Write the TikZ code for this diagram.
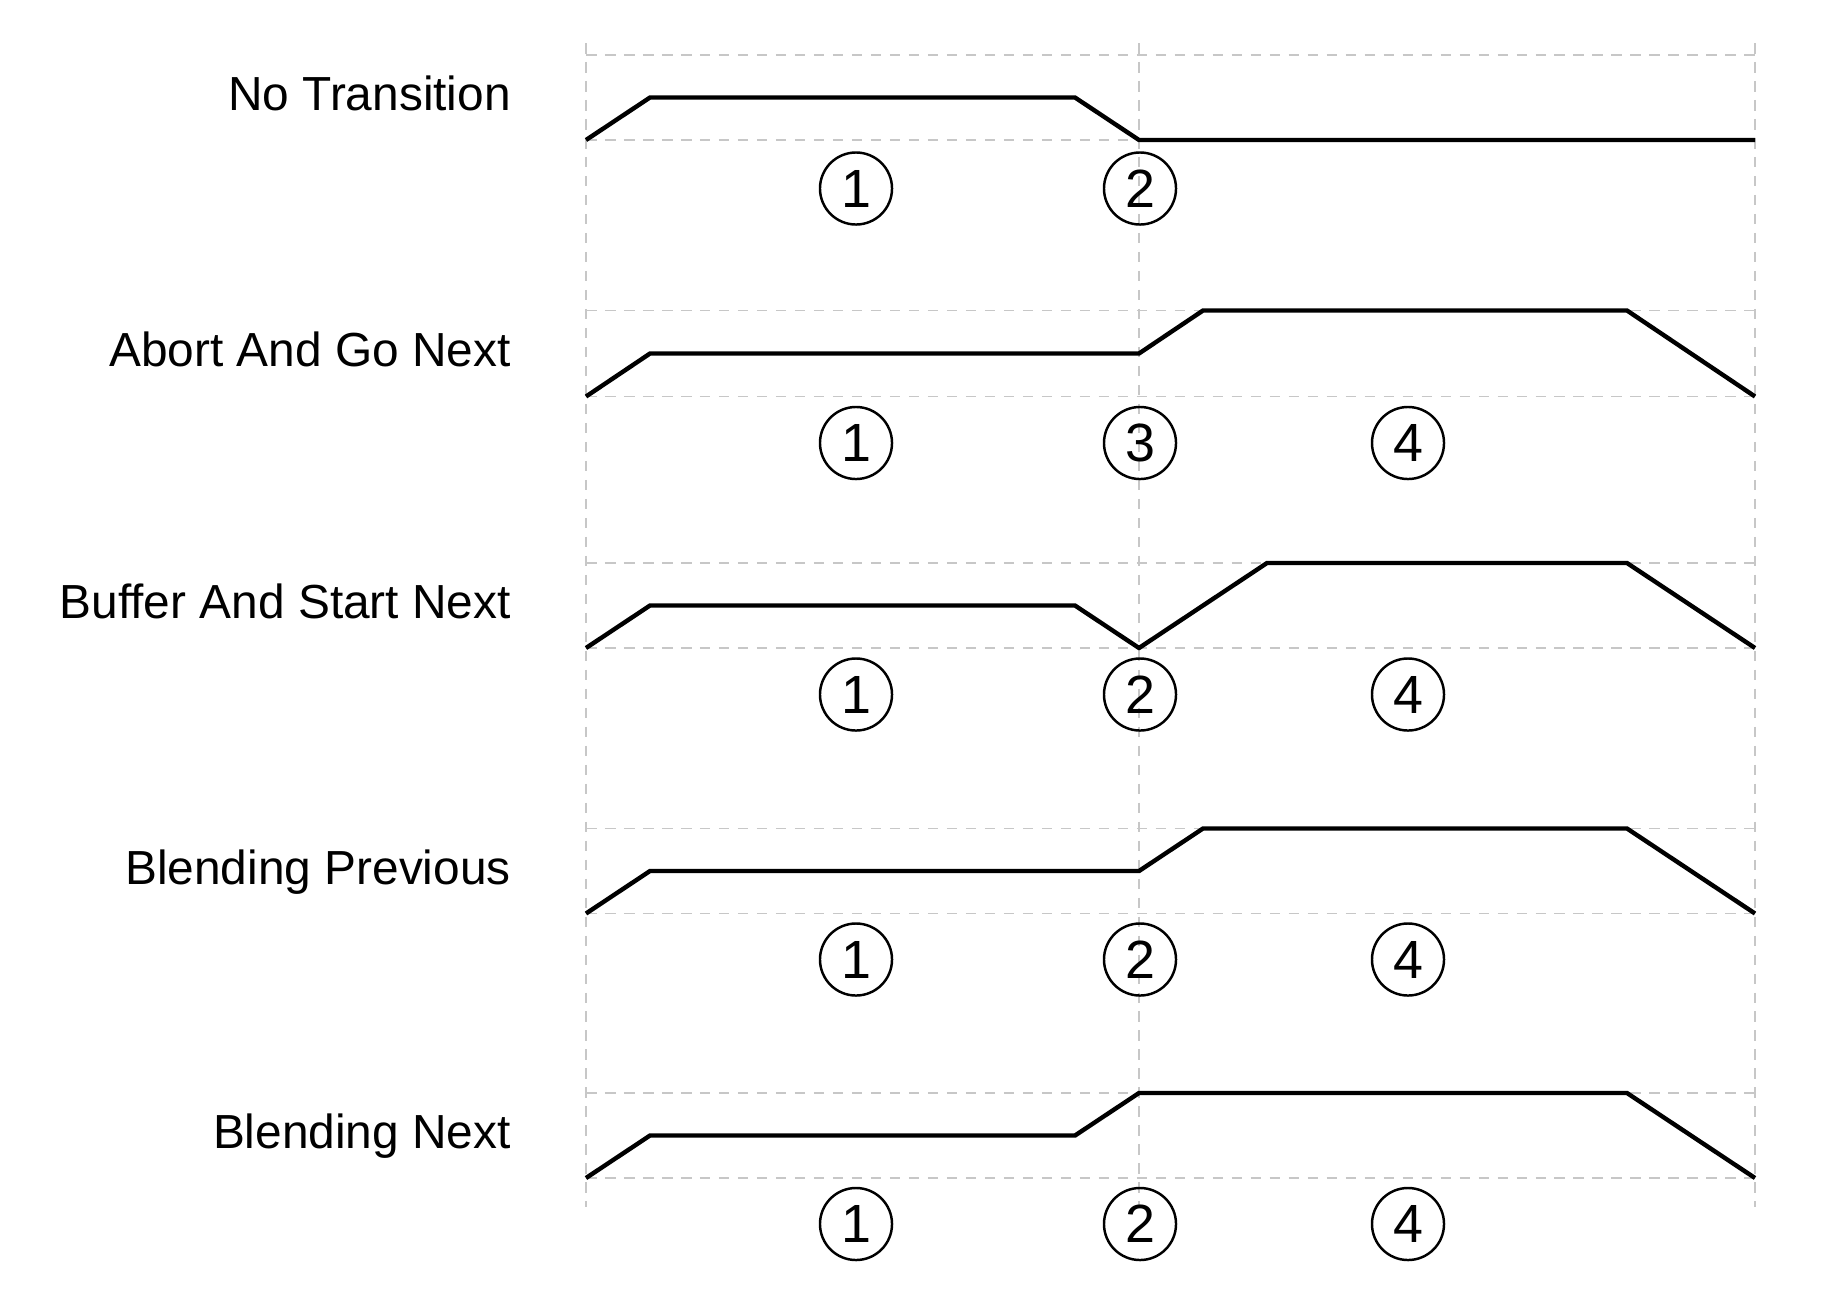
\documentclass[tikz,border=0pt]{standalone}
\usepackage{fontspec}
\setmainfont{Liberation Sans}
\begin{document}
\begin{tikzpicture}[x=0.01cm,y=-0.01cm,
  grid/.style={draw=black!22, line width=0.35pt, dash pattern=on 3pt off 2.4pt},
  sig/.style={line width=1.25pt, line join=miter},
  lab/.style={anchor=base east, inner sep=0pt, font=\fontsize{13.6}{16}\selectfont},
  num/.style={circle, draw, line width=0.7pt, minimum size=0.72cm, inner sep=0pt, font=\fontsize{15.3}{18}\selectfont}]
\useasboundingbox (0,0) rectangle (1836,1290);
% vertical guides
\foreach \x in {586,1139,1755} \draw[grid] (\x,43) -- (\x,1207);
% horizontal guides
\foreach \y in {55,140,310.5,396.5,563,648,828.5,913.5,1093,1178}
  \draw[grid] (586,\y) -- (1758,\y);
% labels
\node[lab] (l1) at (511.5,110.5) {No Transition};
\node[lab] (l2) at (511.5,366.5) {Abort And Go Next};
\node[lab] (l3) at (511.5,618.5) {Buffer And Start Next};
\node[lab] (l4) at (511.5,884) {Blending Previous};
\node[lab] (l5) at (511.5,1148.5) {Blending Next};
% signals
\draw[sig] (586,140) -- (650,97.5) -- (1075,97.5) -- (1139,140) -- (1755,140);
\draw[sig] (586,396.5) -- (650,353.5) -- (1139,353.5) -- (1203,310.5) -- (1627,310.5) -- (1755,396.5);
\draw[sig] (586,648) -- (650,605.5) -- (1075,605.5) -- (1139,648) -- (1267,563) -- (1627,563) -- (1755,648);
\draw[sig] (586,913.5) -- (650,871) -- (1139,871) -- (1203,828.5) -- (1627,828.5) -- (1755,913.5);
\draw[sig] (586,1178) -- (650,1135.5) -- (1075,1135.5) -- (1139,1093) -- (1627,1093) -- (1755,1178);
% numbered markers
\node[num] (r1a) at (856,188.5) {1};
\node[num] (r1b) at (1140,188.5) {2};
\node[num] (r2a) at (856,443) {1};
\node[num] (r2b) at (1140,443) {3};
\node[num] (r2c) at (1408,443) {4};
\node[num] (r3a) at (856,694.5) {1};
\node[num] (r3b) at (1140,694.5) {2};
\node[num] (r3c) at (1408,694.5) {4};
\node[num] (r4a) at (856,959.5) {1};
\node[num] (r4b) at (1140,959.5) {2};
\node[num] (r4c) at (1408,959.5) {4};
\node[num] (r5a) at (856,1224) {1};
\node[num] (r5b) at (1140,1224) {2};
\node[num] (r5c) at (1408,1224) {4};
\end{tikzpicture}
\end{document}
